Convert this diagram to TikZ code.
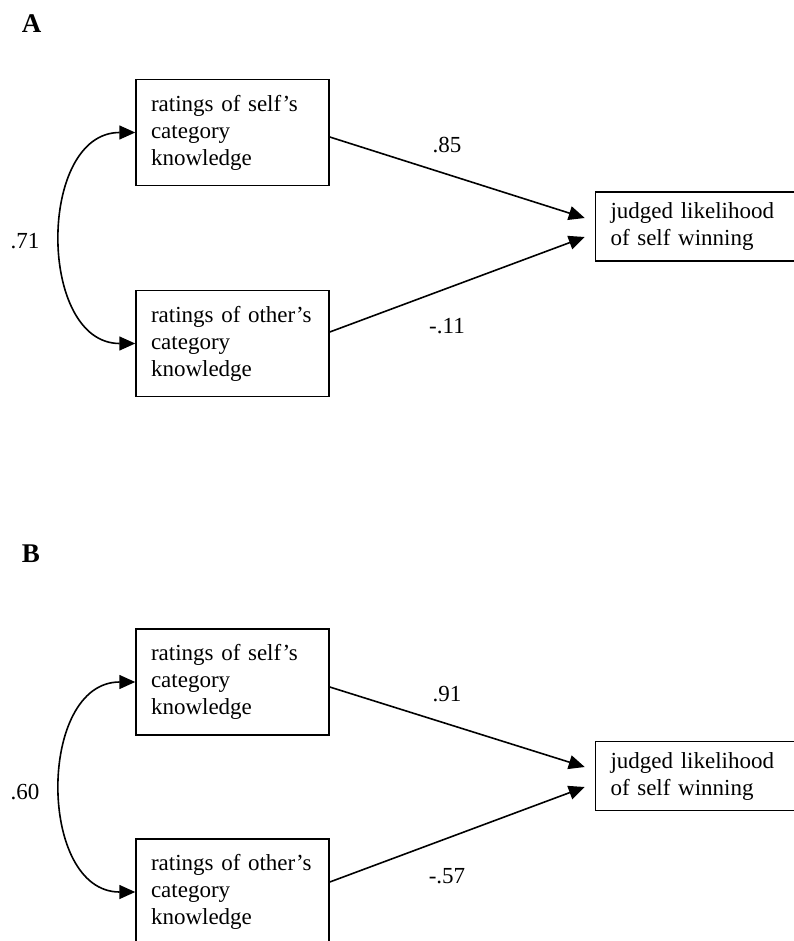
\documentclass[tikz,border=0pt]{standalone}
\usepackage{fontspec}
\setmainfont{Liberation Serif}
\usetikzlibrary{arrows.meta}
\begin{document}
\begin{tikzpicture}[x=1pt,y=-1pt,
  every node/.style={font=\fontsize{23}{27}\selectfont, inner sep=0pt},
  varbox/.style={draw, line width=1.5pt, minimum width=193pt, minimum height=106pt,
    text width=163pt, align=left, inner xsep=15pt, inner ysep=0pt},
  outbox/.style={draw, line width=1.5pt, minimum width=199pt, minimum height=69pt,
    text width=169pt, align=left, inner xsep=15pt, inner ysep=0pt},
  tip/.style={Triangle[length=16pt,width=14pt]},
  path/.style={line width=1.6pt, -{Triangle[length=16pt,width=14pt]}},
  covar/.style={line width=1.6pt, {Triangle[length=16pt,width=14pt]}-{Triangle[length=16pt,width=14pt]}},
  panel/.style={font=\fontsize{27}{30}\selectfont\bfseries}]
\useasboundingbox (0,0) rectangle (793,941);

% Panel A
\node[panel] (A) at (31.5,23.5) {A};
\node[varbox] (sa) at (232.5,132.5) {ratings of self's\\category\\knowledge};
\node[varbox] (oa) at (232.5,343.5) {ratings of other's\\category\\knowledge};
\node[outbox] (ta) at (695,226.5) {judged likelihood\\of self winning};
\draw[path] ([yshift=-4.5pt]sa.east) -- ([xshift=-10pt,yshift=8.5pt]ta.west);
\draw[path] ([yshift=11.5pt]oa.east) -- ([xshift=-10pt,yshift=-10.5pt]ta.west);
\draw[covar] (sa.west) .. controls +(-98,0) and +(-98,0) .. (oa.west);
\node (ca) at (25,241) {.71};
\node (la1) at (447,145) {.85};
\node (la2) at (447,326) {-.11};

% Panel B
\node[panel] (B) at (31,554) {B};
\node[varbox] (sb) at (232.5,682) {ratings of self's\\category\\knowledge};
\node[varbox] (ob) at (232.5,892) {ratings of other's\\category\\knowledge};
\node[outbox] (tb) at (695,776) {judged likelihood\\of self winning};
\draw[path] ([yshift=-5pt]sb.east) -- ([xshift=-10pt,yshift=9pt]tb.west);
\draw[path] ([yshift=10pt]ob.east) -- ([xshift=-10pt,yshift=-11pt]tb.west);
\draw[covar] (sb.west) .. controls +(-98,0) and +(-98,0) .. (ob.west);
\node (cb) at (25,792) {.60};
\node (lb1) at (447,694) {.91};
\node (lb2) at (447,876) {-.57};
\end{tikzpicture}
\end{document}
